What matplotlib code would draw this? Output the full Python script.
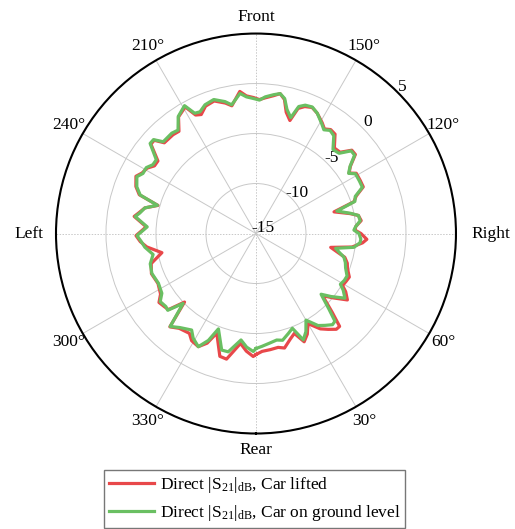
import numpy as np
import matplotlib
matplotlib.use("Agg")
import matplotlib.pyplot as plt

plt.rcParams['font.family'] = ['Liberation Serif', 'DejaVu Serif']
plt.rcParams['mathtext.fontset'] = 'custom'
plt.rcParams['mathtext.rm'] = 'Liberation Serif'
plt.rcParams['mathtext.it'] = 'Liberation Serif:italic'
plt.rcParams['axes.unicode_minus'] = False

# Angles (degrees, 0 = Rear, 90 = Right, 180 = Front, 270 = Left)
angles_deg = [0, 3, 7, 11, 14, 18, 21, 24, 27, 30, 34, 37, 40, 42, 44, 47, 50, 54, 57, 59,
              62, 65, 69, 72, 75, 77, 79.5, 82, 85, 87, 90, 92, 94, 97, 100, 102, 105.5, 108,
              110.5, 113.5, 117, 121, 123, 125.5, 128.5, 131, 134, 137.5, 141.5, 144.3, 146.8,
              149.1, 153, 156, 159, 161.4, 163.3, 166, 168, 170.2, 172.7, 176.1, 178.5, 181,
              184, 186.5, 190.7, 193.2, 197.5, 201.6, 204.7, 207, 209.2, 213.6, 217, 220, 225.3,
              227.5, 229.6, 233.5, 236.3, 239, 242, 244.5, 248.6, 251.6, 254, 257, 260, 262,
              266.5, 271, 274, 277, 281.5, 286, 291, 297, 302.4, 305.4, 309, 311, 313.8, 317.3,
              321, 326.3, 329, 333, 336, 338.5, 343.6, 346.8, 352, 355.3, 358.7]

s21_ground = [-3.5, -3.7, -3.95, -4.15, -4.0, -4.5, -4.85, -3.35, -4.0, -5.0, -3.9, -3.5, -3.1,
              -3.2, -4.5, -6.1, -5.2, -4.0, -4.6, -5.15, -5.0, -4.95, -5.4, -5.6, -5.9, -6.4, -6.9,
              -5.1, -4.55, -4.5, -4.7, -5.2, -5.0, -4.5, -4.6, -5.3, -6.6, -4.6, -4.4, -3.4, -3.4,
              -3.4, -3.95, -3.45, -2.4, -2.4, -3.45, -3.6, -2.5, -2.3, -2.6, -2.2, -1.5, -1.15,
              -1.25, -1.6, -2.9, -2.2, -1.2, -0.8, -1.0, -1.3, -1.65, -1.5, -1.3, -0.9, -1.9,
              -1.45, -0.95, -1.15, -1.6, -1.5, -0.35, -0.95, -2.05, -1.9, -1.95, -1.1, -1.1,
              -2.6, -2.6, -2.2, -2.2, -1.8, -2.2, -2.8, -4.75, -3.6, -3.2, -2.8, -4.1, -3.1,
              -3.5, -3.8, -4.5, -4.0, -3.85, -4.05, -3.85, -3.25, -3.4, -3.3, -4.9, -2.35, -2.9,
              -3.4, -2.8, -2.3, -3.3, -4.75, -2.85, -2.85, -4.25, -3.6, -3.2]

s21_lifted = [-2.9, -3.2, -3.3, -3.4, -3.2, -3.9, -4.3, -3.15, -3.7, -4.6, -3.5, -3.0, -2.5,
              -2.5, -4.0, -5.9, -5.0, -3.7, -4.3, -4.9, -4.8, -4.7, -5.2, -5.4, -5.8, -6.6, -7.4,
              -5.3, -4.3, -3.9, -4.5, -5.1, -5.0, -4.4, -4.6, -5.4, -6.9, -4.7, -4.3, -3.3, -3.3,
              -3.3, -3.9, -3.4, -2.3, -2.3, -3.3, -3.4, -2.3, -2.2, -2.5, -2.1, -1.5, -1.2,
              -1.4, -1.8, -3.2, -2.5, -1.3, -0.8, -1.1, -1.4, -1.6, -1.4, -1.2, -0.7, -2.0,
              -1.6, -1.1, -1.3, -1.9, -1.7, -0.5, -1.0, -2.2, -2.1, -2.1, -1.2, -1.2,
              -2.8, -2.8, -2.3, -2.1, -1.7, -2.1, -2.7, -4.8, -3.6, -3.1, -2.7, -4.0, -3.0,
              -3.4, -4.0, -5.4, -4.1, -3.8, -4.0, -3.7, -3.1, -3.3, -3.4, -5.1, -2.3, -2.8,
              -3.0, -2.5, -2.3, -3.0, -4.3, -2.2, -2.1, -3.9, -3.2, -2.7]

theta_ticks = [0, 30, 60, 90, 120, 150, 180, 210, 240, 270, 300, 330]
theta_labels = ['Rear', '30°', '60°', 'Right', '120°', '150°', 'Front', '210°', '240°',
                'Left', '300°', '330°']
r_ticks = [-15, -10, -5, 0, 5]
r_labels = ['-15', '-10', '-5', '0', '5']

fig = plt.figure(figsize=(5.15, 5.29), dpi=100)
ax = fig.add_axes([0.1087, 0.1805, 0.7767, 0.7561], projection='polar')
ax.set_theta_zero_location('S')
ax.set_theta_direction(1)
ax.set_rlim(-15, 5)

th = np.deg2rad(np.array(angles_deg + [angles_deg[0] + 360]))
ax.plot(th, s21_lifted + [s21_lifted[0]], color='#e8484a', lw=2.3,
        label=r'Direct $|\mathrm{S}_{21}|_{\mathrm{dB}}$, Car lifted', zorder=3)
ax.plot(th, s21_ground + [s21_ground[0]], color='#6abf62', lw=2.3,
        label=r'Direct $|\mathrm{S}_{21}|_{\mathrm{dB}}$, Car on ground level', zorder=4)

ax.set_xticks(np.deg2rad(theta_ticks))
ax.set_xticklabels([])
ax.set_yticks(r_ticks)
ax.set_yticklabels([])
ax.tick_params(axis='x', direction='in', length=5, width=1, colors='black')

# angular labels placed just outside the rim
for t, lab in zip(theta_ticks, theta_labels):
    rr = 6.65
    if lab == 'Right':
        rr = 8.45
    elif lab == 'Left':
        rr = 7.75
    ax.text(np.deg2rad(t), rr, lab, ha='center', va='center', fontsize=12.5)

# radial labels along the 135 degree direction
for rv, lab in zip(r_ticks, r_labels):
    if rv == -15:
        ax.text(np.deg2rad(128), -14.1, lab, ha='center', va='center', fontsize=12.5)
    else:
        ax.text(np.deg2rad(135), rv + 0.75, lab, ha='center', va='center', fontsize=12.5)

ax.grid(True, color='#c8c8c8', lw=0.7)
for gl, t in zip(ax.xaxis.get_gridlines(), theta_ticks):
    if t % 90 == 0:
        gl.set_linestyle((0, (1.5, 1.5)))
ax.spines['polar'].set_linewidth(1.5)
ax.spines['polar'].set_color('black')

leg = fig.legend(loc='upper left', bbox_to_anchor=(0.202, 0.1115), fontsize=12.5,
                 frameon=True, fancybox=False, edgecolor='#777777', framealpha=1,
                 handlelength=2.6, handletextpad=0.3, borderpad=0.3, labelspacing=0.45,
                 borderaxespad=0)
leg.get_frame().set_linewidth(1.0)

fig.savefig('out.png', dpi=100)
